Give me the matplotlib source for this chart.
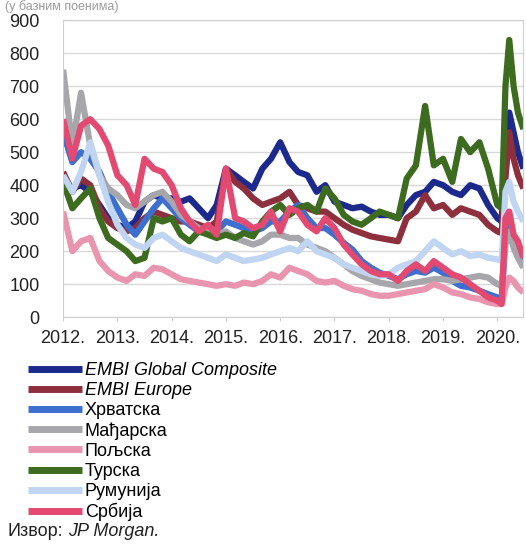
import matplotlib
matplotlib.use('Agg')
import matplotlib.pyplot as plt

plt.rcParams['font.family'] = ['Liberation Sans', 'DejaVu Sans']

# Decimal years: every two months, then denser around the 2020 spike
years = [2012.00, 2012.17, 2012.33, 2012.50, 2012.67, 2012.83,
         2013.00, 2013.17, 2013.33, 2013.50, 2013.67, 2013.83,
         2014.00, 2014.17, 2014.33, 2014.50, 2014.67, 2014.83,
         2015.00, 2015.17, 2015.33, 2015.50, 2015.67, 2015.83,
         2016.00, 2016.17, 2016.33, 2016.50, 2016.67, 2016.83,
         2017.00, 2017.17, 2017.33, 2017.50, 2017.67, 2017.83,
         2018.00, 2018.17, 2018.33, 2018.50, 2018.67, 2018.83,
         2019.00, 2019.17, 2019.33, 2019.50, 2019.67, 2019.83,
         2020.00, 2020.08, 2020.15, 2020.22, 2020.30, 2020.38, 2020.48]

embi_global = [420, 390, 400, 380, 340, 300,
               280, 270, 290, 350, 370, 360,
               360, 350, 360, 330, 300, 340,
               450, 430, 410, 390, 450, 480,
               530, 470, 440, 430, 380, 400,
               350, 340, 330, 335, 320, 310,
               310, 300, 340, 370, 380, 410,
               400, 380, 370, 400, 390, 340,
               300, 290, 500, 620, 560, 500, 450]

embi_europe = [440, 380, 420, 400, 330, 290,
               270, 260, 270, 300, 320, 310,
               300, 290, 290, 280, 270, 290,
               450, 410, 390, 360, 340, 350,
               360, 380, 340, 330, 320, 320,
               300, 280, 265, 255, 245, 240,
               235, 230, 300, 320, 370, 330,
               340, 310, 330, 320, 310, 280,
               260, 255, 420, 560, 480, 430, 390]

croatia = [560, 470, 500, 480, 440, 380,
           330, 280, 250, 290, 330, 360,
           330, 300, 280, 260, 270, 260,
           290, 280, 270, 260, 270, 290,
           290, 320, 340, 300, 270, 270,
           250, 225, 205, 170, 150, 135,
           125, 115, 130, 140, 135, 150,
           135, 110, 95, 90, 80, 70,
           60, 55, 250, 280, 230, 210, 170]

hungary = [750, 520, 680, 520, 430, 390,
           370, 340, 330, 350, 370, 380,
           350, 310, 290, 270, 260, 250,
           260, 240, 230, 220, 230, 250,
           250, 240, 240, 220, 210, 200,
           180, 160, 140, 125, 115, 105,
           100, 95, 100, 105, 110, 115,
           115, 110, 115, 120, 125, 120,
           100, 95, 220, 260, 210, 180, 150]

poland = [320, 200, 230, 240, 170, 140,
          120, 110, 130, 125, 150, 145,
          130, 115, 110, 105, 100, 95,
          100, 95, 105, 100, 110, 130,
          120, 150, 140, 130, 110, 105,
          110, 95, 85, 80, 70, 65,
          65, 70, 75, 80, 85, 100,
          90, 75, 70, 60, 55, 45,
          40, 40, 90, 120, 110, 90, 75]

turkey = [410, 330, 360, 390, 300, 240,
          220, 200, 170, 180, 300, 290,
          300, 250, 230, 260, 250, 240,
          250, 240, 255, 245, 290, 320,
          340, 310, 330, 340, 320, 390,
          360, 310, 290, 280, 300, 320,
          310, 300, 420, 460, 640, 460,
          480, 410, 540, 500, 530, 450,
          340, 330, 700, 840, 700, 620, 570]

romania = [430, 380, 440, 530, 430, 350,
           280, 240, 220, 210, 240, 250,
           230, 210, 200, 190, 180, 170,
           190, 180, 170, 175, 180, 190,
           200, 210, 200, 230, 200, 190,
           180, 160, 150, 140, 130, 125,
           130, 150, 160, 170, 200, 230,
           210, 190, 200, 185, 190, 180,
           175, 170, 380, 410, 350, 320, 290]

serbia = [600, 480, 580, 600, 570, 520,
          430, 400, 340, 480, 450, 440,
          400, 330, 290, 260, 280, 250,
          450, 300, 290, 270, 280, 320,
          260, 330, 320, 280, 260, 300,
          270, 220, 190, 160, 140, 130,
          130, 110, 140, 160, 140, 170,
          150, 130, 120, 100, 80, 60,
          50, 40, 300, 320, 250, 230, 180]

series_names = ['EMBI Global Composite', 'EMBI Europe', 'Хрватска', 'Мађарска',
                'Пољска', 'Турска', 'Румунија', 'Србија']
series_values = [embi_global, embi_europe, croatia, hungary,
                 poland, turkey, romania, serbia]
colors = ['#1b2a8c', '#8e2f3e', '#3d6fcf', '#a6a6ab',
          '#e995b0', '#3d6b1f', '#c0d5f2', '#e24a72']

year_ticks = [2012, 2013, 2014, 2015, 2016, 2017, 2018, 2019, 2020]
year_labels = [f'{y}.' for y in year_ticks]

fig = plt.figure(figsize=(5.26, 5.45), dpi=100)
ax = fig.add_axes([0.120, 0.418, 0.875, 0.545])

for name, vals, col in zip(series_names, series_values, colors):
    ax.plot(years, vals, color=col, linewidth=4.5, label=name,
            solid_joinstyle='round', solid_capstyle='butt')

ax.set_xlim(2012, 2020.48)
ax.set_ylim(0, 900)
ax.set_yticks(range(0, 901, 100))
ax.set_xticks(year_ticks)
ax.set_xticklabels(year_labels)
ax.grid(axis='y', color='#d9d9d9', linewidth=1)
ax.set_axisbelow(True)
for sp in ax.spines.values():
    sp.set_color('#d0d0d0')
ax.tick_params(axis='y', length=0, pad=17, labelsize=13, labelcolor='#222222')
ax.tick_params(axis='x', length=3, color='#d0d0d0', pad=6, labelsize=13,
               labelcolor='#222222')

leg = fig.legend(loc='upper left', bbox_to_anchor=(28 / 526, 1 - 362 / 545),
                 frameon=False, fontsize=13, handlelength=3.0,
                 handletextpad=0.15, labelspacing=0.17, borderpad=0,
                 borderaxespad=0)
for line in leg.get_lines():
    line.set_linewidth(5)
for t in leg.get_texts()[:2]:
    t.set_style('italic')

fig.text(0.015, 1 - 531 / 545, 'Извор:', fontsize=13, va='center', color='#222222')
fig.text(0.015 + 60 / 526, 1 - 531 / 545, 'JP Morgan.', fontsize=13, va='center',
         style='italic', color='#222222')
fig.text(0.01, 0.999, '(у базним поенима)', fontsize=9, va='top',
         color='#9a9a9a')

fig.savefig('out.png', dpi=100)
